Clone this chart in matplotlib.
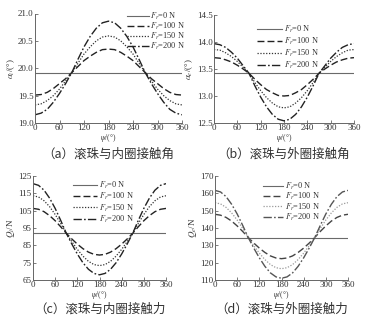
import matplotlib
matplotlib.use("Agg")
import matplotlib.pyplot as plt

plt.rcParams["font.family"] = ["Liberation Serif", "Noto Sans CJK SC"]
plt.rcParams["mathtext.fontset"] = "stix"

# azimuth angle of the ball, degrees
psi = [0, 15, 30, 45, 60, 75, 90, 105, 120, 135, 150, 165, 180,
       195, 210, 225, 240, 255, 270, 285, 300, 315, 330, 345, 360]

loads = ["0", "100", "150", "200"]

# (a) inner-ring contact angle, degrees
ai_0 = [19.92] * 25
ai_100 = [19.51, 19.52, 19.56, 19.63, 19.72, 19.81, 19.92, 20.03, 20.14, 20.22, 20.29, 20.34, 20.35,
          20.34, 20.29, 20.22, 20.14, 20.03, 19.92, 19.81, 19.72, 19.63, 19.56, 19.52, 19.51]
ai_150 = [19.33, 19.35, 19.41, 19.50, 19.62, 19.77, 19.92, 20.09, 20.26, 20.39, 20.50, 20.57, 20.59,
          20.57, 20.50, 20.39, 20.26, 20.09, 19.92, 19.77, 19.62, 19.50, 19.41, 19.35, 19.33]
ai_200 = [19.15, 19.18, 19.25, 19.38, 19.54, 19.72, 19.92, 20.16, 20.39, 20.58, 20.73, 20.83, 20.86,
          20.83, 20.73, 20.58, 20.39, 20.16, 19.92, 19.72, 19.54, 19.38, 19.25, 19.18, 19.15]

# (b) outer-ring contact angle, degrees
ae_0 = [13.42] * 25
ae_100 = [13.71, 13.70, 13.67, 13.63, 13.57, 13.50, 13.42, 13.31, 13.21, 13.12, 13.06, 13.01, 13.00,
          13.01, 13.06, 13.12, 13.21, 13.31, 13.42, 13.50, 13.57, 13.63, 13.67, 13.70, 13.71]
ae_150 = [13.86, 13.85, 13.80, 13.73, 13.64, 13.53, 13.42, 13.25, 13.10, 12.97, 12.87, 12.80, 12.78,
          12.80, 12.87, 12.97, 13.10, 13.25, 13.42, 13.53, 13.64, 13.73, 13.80, 13.85, 13.86]
ae_200 = [13.97, 13.95, 13.90, 13.81, 13.70, 13.56, 13.42, 13.19, 12.98, 12.80, 12.66, 12.57, 12.54,
          12.57, 12.66, 12.80, 12.98, 13.19, 13.42, 13.56, 13.70, 13.81, 13.90, 13.95, 13.97]

# (c) ball / inner-ring contact force, N
qi_0 = [92.0] * 25
qi_100 = [106.3, 105.8, 104.4, 102.1, 99.2, 95.7, 92.0, 88.7, 85.7, 83.1, 81.1, 79.8, 79.4,
          79.8, 81.1, 83.1, 85.7, 88.7, 92.0, 95.7, 99.2, 102.1, 104.4, 105.8, 106.3]
qi_150 = [113.6, 112.9, 110.7, 107.3, 102.8, 97.6, 92.0, 87.2, 82.7, 78.8, 75.8, 73.9, 73.3,
          73.9, 75.8, 78.8, 82.7, 87.2, 92.0, 97.6, 102.8, 107.3, 110.7, 112.9, 113.6]
qi_200 = [120.6, 119.6, 116.8, 112.2, 106.3, 99.4, 92.0, 85.8, 80.0, 75.0, 71.2, 68.8, 68.0,
          68.8, 71.2, 75.0, 80.0, 85.8, 92.0, 99.4, 106.3, 112.2, 116.8, 119.6, 120.6]

# (d) ball / outer-ring contact force, N
qe_0 = [134.5] * 25
qe_100 = [147.9, 147.4, 146.1, 144.0, 141.2, 138.0, 134.5, 131.3, 128.4, 125.9, 123.9, 122.7, 122.3,
          122.7, 123.9, 125.9, 128.4, 131.3, 134.5, 138.0, 141.2, 144.0, 146.1, 147.4, 147.9]
qe_150 = [154.6, 153.9, 151.9, 148.7, 144.6, 139.7, 134.5, 129.8, 125.5, 121.8, 118.9, 117.1, 116.5,
          117.1, 118.9, 121.8, 125.5, 129.8, 134.5, 139.7, 144.6, 148.7, 151.9, 153.9, 154.6]
qe_200 = [161.7, 160.8, 158.1, 153.7, 148.1, 141.5, 134.5, 128.4, 122.8, 117.9, 114.1, 111.8, 111.0,
          111.8, 114.1, 117.9, 122.8, 128.4, 134.5, 141.5, 148.1, 153.7, 158.1, 160.8, 161.7]

x_ticks = [0, 60, 120, 180, 240, 300, 360]
ai_ticks = [19.0, 19.5, 20.0, 20.5, 21.0]
ae_ticks = [12.5, 13.0, 13.5, 14.0, 14.5]
qi_ticks = [65, 75, 85, 95, 105, 115, 125]
qe_ticks = [110, 120, 130, 140, 150, 160, 170]

W, H = 370, 322
fig = plt.figure(figsize=(W / 100, H / 100), dpi=100)
fig.patch.set_facecolor("white")


def px_axes(left, top, right, bottom):
    return fig.add_axes([left / W, 1 - bottom / H, (right - left) / W, (bottom - top) / H])


styles = [dict(ls="-", lw=0.8),
          dict(ls=(0, (5, 2.2)), lw=1.0),
          dict(ls=(0, (1, 1.3)), lw=0.9),
          dict(ls=(0, (6, 1.6, 1.2, 1.6)), lw=1.0)]


def panel(ax, series, colors, yticks, ylabel, caption, cap_y, leg_xy, leg_space,
          handle_len, tick_fmt):
    for y, load, st, c in zip(series, loads, styles, colors):
        ax.plot(psi, y, color=c, label=r"$F_r$=" + load + " N", **st)
    ax.set_xlim(0, 360)
    ax.set_ylim(yticks[0], yticks[-1])
    ax.set_xticks(x_ticks)
    ax.set_yticks(yticks)
    ax.set_yticklabels([tick_fmt.format(t) for t in yticks])
    for s in ("top", "right"):
        ax.spines[s].set_visible(False)
    for s in ("left", "bottom"):
        ax.spines[s].set_color("#666666")
        ax.spines[s].set_linewidth(0.7)
    ax.tick_params(direction="in", length=2, width=0.6, colors="#666666",
                   labelsize=6.5, labelcolor="#333333", pad=1)
    ax.set_xlabel(r"$\psi$/(°)", fontsize=5.5, color="#333333", labelpad=0)
    ax.set_ylabel(ylabel, fontsize=6.5, color="#333333", labelpad=1)
    bb = ax.get_position()
    fig.text((bb.x0 + bb.x1) / 2, 1 - cap_y / H, caption, ha="center", va="center",
             fontsize=9, color="#333333", family=["Noto Sans CJK SC", "Liberation Serif"])
    ax.legend(loc="upper left", bbox_to_anchor=(leg_xy[0] / W, 1 - leg_xy[1] / H),
              bbox_transform=fig.transFigure, frameon=False, fontsize=6,
              handlelength=handle_len, handletextpad=0.2, borderpad=0, borderaxespad=0,
              labelspacing=leg_space, labelcolor="#333333")


dark = ["#6a6a6a", "#222222", "#333333", "#222222"]
grey = ["#6a6a6a", "#444444", "#9a9a9a", "#555555"]

ax_a = px_axes(35, 13.5, 182, 123)
panel(ax_a, [ai_0, ai_100, ai_150, ai_200], dark, ai_ticks, r"$\alpha_i$/(°)",
      "（a）滚珠与内圈接触角", 154, (127, 11), -0.15, 2.6, "{:.1f}")

ax_b = px_axes(214, 15, 354, 123)
panel(ax_b, [ae_0, ae_100, ae_150, ae_200], dark, ae_ticks, r"$\alpha_e$/(°)",
      "（b）滚珠与外圈接触角", 154, (257, 24), 0.1, 3.0, "{:.1f}")

ax_c = px_axes(33, 176, 166, 280)
panel(ax_c, [qi_0, qi_100, qi_150, qi_200], dark, qi_ticks, r"$Q_i$/N",
      "（c）滚珠与内圈接触力", 309, (73, 180), 0.0, 2.9, "{:d}")

ax_d = px_axes(215, 176, 348, 280)
panel(ax_d, [qe_0, qe_100, qe_150, qe_200], grey, qe_ticks, r"$Q_e$/N",
      "（d）滚珠与外圈接触力", 309, (263, 181), -0.12, 2.4, "{:d}")

fig.savefig("out.png", dpi=100, facecolor="white")
